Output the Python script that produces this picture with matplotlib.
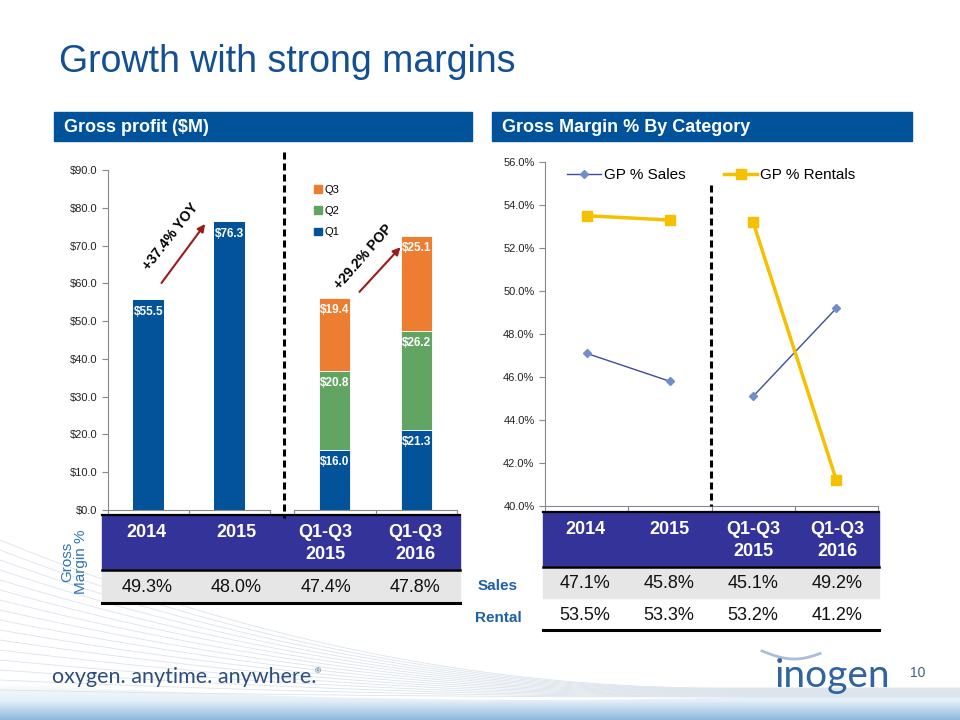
import numpy as np
import matplotlib
matplotlib.use("Agg")
import matplotlib.pyplot as plt
from matplotlib.patches import Rectangle, Patch
from matplotlib.lines import Line2D
from matplotlib.colors import LinearSegmentedColormap
from matplotlib.ticker import FuncFormatter

plt.rcParams['font.family'] = ['Liberation Sans', 'DejaVu Sans']

# data
years = ['2014', '2015']
annual_gp = [55.5, 76.3]
periods = ['Q1-Q3 2015', 'Q1-Q3 2016']
q1_gp = [16.0, 21.3]
q2_gp = [20.8, 26.2]
q3_gp = [19.4, 25.1]
yoy_label = '+37.4% YOY'
pop_label = '+29.2% POP'
table_cols = ['2014', '2015', 'Q1-Q3\n2015', 'Q1-Q3\n2016']
gross_margin = [49.3, 48.0, 47.4, 47.8]
gp_sales = [47.1, 45.8, 45.1, 49.2]
gp_rentals = [53.5, 53.3, 53.2, 41.2]

BLUE = '#02539A'
ORANGE = '#ED7D31'
GREEN = '#62A562'
HEAD = '#333399'
GRAY_ROW = '#E6E6E6'
TXT_BLUE = '#1F5FA8'

W, H = 960, 720
fig = plt.figure(figsize=(9.6, 7.2), dpi=100)


def box(x0, y0, x1, y1):
    # pixel box (top-left origin) -> figure fraction rect
    return [x0 / W, 1 - y1 / H, (x1 - x0) / W, (y1 - y0) / H]


# background layer: swoosh lines + gradient at the bottom
bg = fig.add_axes([0, 0, 1, 1], zorder=-5)
bg.set_xlim(0, W)
bg.set_ylim(H, 0)
bg.axis('off')
xs = np.linspace(0, W, 200)
for i in range(16):
    y_start = 540 + 10 * i
    y_end = 688 + 0.6 * i
    t = np.clip(xs / 720, 0, 1)
    ys = y_end + (y_start - y_end) * (1 - t) ** 2
    bg.plot(xs, ys, color='#DCE3EB', lw=0.6)
grad = np.linspace(0, 1, 100).reshape(-1, 1)
cmap = LinearSegmentedColormap.from_list('sw', ['#FFFFFF', '#E3EEF7', '#8DB9DC'])
im = bg.imshow(grad, extent=(0, W, 720, 682), aspect='auto', cmap=cmap, origin='upper')
top_edge = 684 + 16 * np.sin(np.pi * xs / W * 0.9)
poly = np.column_stack([np.r_[xs, W, 0], np.r_[top_edge, 720, 720]])
clip = plt.Polygon(poly, closed=True, transform=bg.transData, facecolor='none', edgecolor='none')
bg.add_patch(clip)
im.set_clip_path(clip)

# title and section headers
fig.text(59 / W, 1 - 62 / H, 'Growth with strong margins', fontsize=27, color='#134F94', va='center')
bg.add_patch(Rectangle((54, 112), 418, 29, color='#00539B'))
bg.add_patch(Rectangle((492, 112), 420, 29, color='#00539B'))
bg.text(64, 127, 'Gross profit ($M)', color='white', fontsize=13, fontweight='bold', va='center')
bg.text(502, 127, 'Gross Margin % By Category', color='white', fontsize=13, fontweight='bold', va='center')

# left chart: annual bars + stacked quarterly bars
ax1 = fig.add_axes(box(108, 170, 270, 510))
ax2 = fig.add_axes(box(294, 170, 457, 510))
for ax in (ax1, ax2):
    ax.patch.set_alpha(0)
    ax.set_ylim(0, 90)
    ax.set_xlim(-0.5, 1.5)
    ax.set_xticks([-0.5, 0.5, 1.5])
    ax.set_xticklabels([])
    ax.spines['top'].set_visible(False)
    ax.spines['right'].set_visible(False)
    ax.spines['bottom'].set_color('#888888')
    ax.spines['left'].set_color('#888888')
    ax.tick_params(axis='x', length=4, color='#888888')
bw = 0.38
x = np.arange(2)
ax1.bar(x, annual_gp, width=bw, color=BLUE)
for xi, v in zip(x, annual_gp):
    ax1.text(xi, v - 3.2, f'${v:.1f}', ha='center', va='center', color='white', fontsize=8.5, fontweight='bold')
ax1.set_yticks(np.arange(0, 91, 10))
ax1.yaxis.set_major_formatter(FuncFormatter(lambda v, p: f'${v:.1f}'))
ax1.tick_params(axis='y', labelsize=8, length=4, color='#888888', labelcolor='#222222')

bottom = np.zeros(2)
for vals, col in ((q1_gp, BLUE), (q2_gp, GREEN), (q3_gp, ORANGE)):
    ax2.bar(x, vals, width=bw, bottom=bottom, color=col, edgecolor='white', linewidth=0.6)
    for xi, b, v in zip(x, bottom, vals):
        ax2.text(xi, b + v - 3.2, f'${v:.1f}', ha='center', va='center', color='white', fontsize=8.5, fontweight='bold')
    bottom = bottom + np.array(vals)
ax2.spines['left'].set_visible(False)
ax2.set_yticks([])
ax2.legend(handles=[Patch(color=ORANGE, label='Q3'), Patch(color=GREEN, label='Q2'), Patch(color=BLUE, label='Q1')],
           loc='upper left', bbox_to_anchor=(0.06, 0.985), frameon=False, fontsize=8,
           handlelength=0.7, handleheight=0.7, handletextpad=0.3, labelspacing=1.0)

arrow = dict(arrowstyle='-|>', color='#9B1B1B', lw=1.5, mutation_scale=11)
ax1.annotate('', xy=(0.72, annual_gp[1]), xytext=(0.14, annual_gp[0] + 4), arrowprops=arrow)
ax1.text(0.27, 72.3, yoy_label, rotation=52, ha='center', va='center', fontsize=10, fontweight='bold')
ax2.annotate('', xy=(0.83, bottom[1] - 2.5), xytext=(0.28, bottom[0] + 1), arrowprops=arrow)
ax2.text(0.35, 67.0, pop_label, rotation=49, ha='center', va='center', fontsize=10, fontweight='bold')

# right chart: gross margin lines
ax3 = fig.add_axes(box(545, 162, 878, 506))
ax3.patch.set_alpha(0)
xc = np.arange(4)
ax3.plot(xc[:2], gp_sales[:2], color='#3F4C9E', lw=1, marker='D', ms=4, mfc='#6F8FC8', mec='#6F8FC8')
ax3.plot(xc[2:], gp_sales[2:], color='#3F4C9E', lw=1, marker='D', ms=4, mfc='#6F8FC8', mec='#6F8FC8')
ax3.plot(xc[:2], gp_rentals[:2], color='#F5C000', lw=2.5, marker='s', ms=7)
ax3.plot(xc[2:], gp_rentals[2:], color='#F5C000', lw=2.5, marker='s', ms=7)
ax3.set_xlim(-0.5, 3.5)
ax3.set_ylim(40, 56)
ax3.set_yticks(np.arange(40, 57, 2))
ax3.yaxis.set_major_formatter(FuncFormatter(lambda v, p: f'{v:.1f}%'))
ax3.set_xticks(np.arange(-0.5, 3.6, 1))
ax3.set_xticklabels([])
ax3.tick_params(labelsize=8, length=4, color='#888888', labelcolor='#222222')
for s in ('top', 'right'):
    ax3.spines[s].set_visible(False)
for s in ('bottom', 'left'):
    ax3.spines[s].set_color('#888888')
ax3.legend(handles=[Line2D([], [], color='#3F4C9E', lw=1, marker='D', ms=4, mfc='#6F8FC8', mec='#6F8FC8', label='GP % Sales'),
                    Line2D([], [], color='#F5C000', lw=2.5, marker='s', ms=7, label='GP % Rentals')],
           loc='center', bbox_to_anchor=(0.5, 0.962), ncol=2, frameon=False, fontsize=11,
           handlelength=2.2, handletextpad=0.2, columnspacing=2.5)

# overlay: dashed separators and the tables
ov = fig.add_axes([0, 0, 1, 1], zorder=5)
ov.patch.set_alpha(0)
ov.set_xlim(0, W)
ov.set_ylim(H, 0)
ov.axis('off')
ov.plot([284, 284], [152, 518], color='black', lw=2.2, dashes=(2.3, 1.3))
ov.plot([711, 711], [185, 506], color='black', lw=2.2, dashes=(2.3, 1.3))


def draw_table(x0, x1, y_head, y_rows, rows):
    ncol = len(table_cols)
    cw = (x1 - x0) / ncol
    ov.add_patch(Rectangle((x0, y_head[0]), x1 - x0, y_head[1] - y_head[0], color=HEAD))
    for j, lab in enumerate(table_cols):
        ov.text(x0 + cw * (j + 0.5), y_head[0] + 9, lab, ha='center', va='top', color='white',
                fontsize=13, fontweight='bold', linespacing=1.4)
    for k, (vals, fill) in enumerate(rows):
        r0, r1 = y_rows[k], y_rows[k + 1]
        if fill:
            ov.add_patch(Rectangle((x0, r0), x1 - x0, r1 - r0, color=fill))
        for j, v in enumerate(vals):
            ov.text(x0 + cw * (j + 0.5), (r0 + r1) / 2 + 1, f'{v:.1f}%', ha='center', va='center',
                    fontsize=13, color='#111111')
    ov.plot([x0, x1], [y_head[0], y_head[0]], color='black', lw=1.6)
    ov.plot([x0, x1], [y_head[1], y_head[1]], color='black', lw=1.8)
    ov.plot([x0, x1], [y_rows[-1], y_rows[-1]], color='black', lw=2.2)


draw_table(102, 460, (515, 570), [570, 603], [(gross_margin, GRAY_ROW)])
draw_table(543, 879, (512, 567), [567, 598, 630], [(gp_sales, GRAY_ROW), (gp_rentals, None)])

ov.text(74, 562, 'Gross\nMargin %', rotation=90, ha='center', va='center', fontsize=11,
        color='#2E75B6', linespacing=1.0)
ov.text(498, 586, 'Sales', ha='center', va='center', fontsize=11, fontweight='bold', color=TXT_BLUE)
ov.text(498, 618, 'Rental', ha='center', va='center', fontsize=11, fontweight='bold', color=TXT_BLUE)

# footer
bg.text(52, 677, 'oxygen. anytime. anywhere.', family=['Lato', 'DejaVu Sans'], fontsize=15.5,
        color='#2D4E7E', va='center')
bg.text(315, 672, '®', fontsize=6, color='#2D4E7E', va='center')
t_arc = np.linspace(0, 1, 50)
bg.plot(762 + 58 * t_arc, 653 + 8 * np.sin(np.pi * t_arc * 0.9) - 2, color='#A9BFD6', lw=2)
bg.text(775, 676, 'inogen', family=['Lato', 'DejaVu Sans'], fontsize=28, color='#2F64A0', va='center')
bg.text(910, 673, '10', fontsize=10, color='#3A5E8C', va='center')

fig.savefig('out.png', dpi=100)
